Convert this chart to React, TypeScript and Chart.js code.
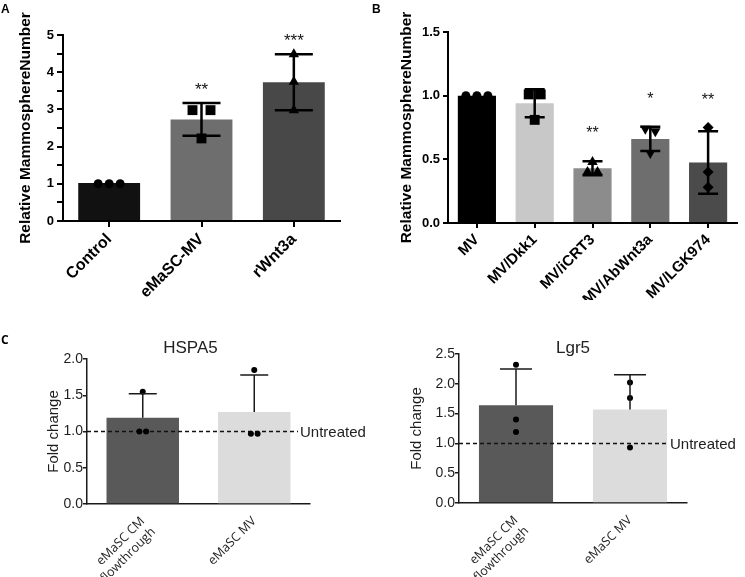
import React, { useEffect, useRef } from 'react';
import { Chart, registerables } from 'chart.js';

Chart.register(...registerables);

// ================= DATA =================
// Panel A
const aCategories = ['Control', 'eMaSC-MV', 'rWnt3a'];
const aMeans = [1.02, 2.73, 3.73];
const aSD = [0, 0.44, 0.75];
const aReplicates = [
  [1.0, 1.0, 1.0],
  [2.98, 2.98, 2.22],
  [4.48, 3.74, 2.98],
];
const aStars = ['', '**', '***'];
const aYTicks = [0, 0.5, 1, 1.5, 2, 2.5, 3, 3.5, 4, 4.5, 5];

// Panel B
const bCategories = ['MV', 'MV/Dkk1', 'MV/iCRT3', 'MV/AbWnt3a', 'MV/LGK974'];
const bMeans = [1.0, 0.94, 0.43, 0.66, 0.475];
const bSD = [0, 0.11, 0.055, 0.095, 0.245];
const bReplicates = [
  [1.0, 1.0, 1.0],
  [1.01, 1.01, 0.81],
  [0.48, 0.4, 0.4],
  [0.74, 0.72, 0.55],
  [0.75, 0.4, 0.28],
];
const bStars = ['', '', '**', '*', '**'];
const bYTicks = [0, 0.5, 1.0, 1.5];

// Panel C
const cCategories = [['eMaSC CM', 'flowthrough'], 'eMaSC MV'];
const hspa5Means = [1.19, 1.27];
const hspa5SD = [0.33, 0.51];
const hspa5Replicates = [
  [1.55, 1.0, 1.0],
  [1.85, 0.97, 0.97],
];
const hspa5YTicks = [0, 0.5, 1.0, 1.5, 2.0];

const lgr5Means = [1.64, 1.57];
const lgr5SD = [0.61, 0.58];
const lgr5Replicates = [
  [2.32, 1.4, 1.19],
  [2.02, 1.76, 0.93],
];
const lgr5YTicks = [0, 0.5, 1.0, 1.5, 2.0, 2.5];

const untreatedLevel = 1.0;
const untreatedLabel = 'Untreated';

// ================= CHART BUILDER =================
const SANS = "'Liberation Sans', Arial, sans-serif";

function makeConfig(s: any) {
  const n = s.categories.length;
  const catPx = (s.area.right - s.area.left) / n;

  const scatterSets = s.replicates.map((vals: number[], i: number) => {
    const used = vals.map(() => false);
    const offs = vals.map(() => 0);
    vals.forEach((v, k) => {
      if (used[k]) return;
      const grp = vals
        .map((_w, j) => j)
        .filter((j) => !used[j] && Math.abs(vals[j] - v) <= s.groupTol);
      grp.forEach((j, m) => {
        used[j] = true;
        offs[j] = ((m - (grp.length - 1) / 2) * s.spreadPx[i]) / catPx;
      });
    });
    return {
      type: 'scatter',
      xAxisID: 'xs',
      yAxisID: 'y',
      data: vals.map((v, k) => ({ x: i + offs[k], y: v })),
      pointStyle: s.pointStyles[i],
      pointRotation: s.pointRotations[i],
      pointRadius: s.pointRadii[i],
      pointHoverRadius: s.pointRadii[i],
      backgroundColor: '#000',
      borderColor: '#000',
      borderWidth: 0,
      order: 1,
      clip: false,
    };
  });

  const extras = {
    id: 'extras',
    afterDatasetDraw(chart: any, args: any) {
      if (args.index !== 0 || !s.refLine) return;
      const { ctx, chartArea, scales } = chart;
      const y = scales.y.getPixelForValue(s.refLine.value);
      const textX = chartArea.right + s.refLine.dx;
      ctx.save();
      ctx.strokeStyle = '#111';
      ctx.lineWidth = 1.5;
      ctx.setLineDash([4, 3]);
      ctx.beginPath();
      ctx.moveTo(chartArea.left, y);
      ctx.lineTo(textX - 2, y);
      ctx.stroke();
      ctx.setLineDash([]);
      ctx.fillStyle = '#222';
      ctx.font = s.refLine.font;
      ctx.textAlign = 'left';
      ctx.textBaseline = 'middle';
      ctx.fillText(s.refLine.label, textX, y + 1);
      ctx.restore();
    },
    afterDatasetsDraw(chart: any) {
      const { ctx, chartArea, scales } = chart;
      const xs = scales.x;
      const ys = scales.y;
      ctx.save();
      ctx.strokeStyle = s.errColor;
      ctx.lineWidth = s.errWidth;
      s.means.forEach((m: number, i: number) => {
        const sd = s.sd[i];
        if (!sd) return;
        const cx = xs.getPixelForValue(i);
        const yTop = ys.getPixelForValue(m + sd);
        const yBot = s.lowerErr ? ys.getPixelForValue(m - sd) : ys.getPixelForValue(m);
        ctx.beginPath();
        ctx.moveTo(cx, yBot);
        ctx.lineTo(cx, yTop);
        ctx.moveTo(cx - s.capHalf, yTop);
        ctx.lineTo(cx + s.capHalf, yTop);
        if (s.lowerErr) {
          ctx.moveTo(cx - s.capHalf, yBot);
          ctx.lineTo(cx + s.capHalf, yBot);
        }
        ctx.stroke();
      });
      if (s.stars) {
        ctx.fillStyle = '#111';
        ctx.font = s.starFont;
        ctx.textAlign = 'center';
        ctx.textBaseline = 'alphabetic';
        s.stars.forEach((st: string, i: number) => {
          if (!st) return;
          const top = Math.max(s.means[i] + s.sd[i], ...s.replicates[i]);
          const cy = ys.getPixelForValue(top) - s.starGap;
          ctx.fillText(st, xs.getPixelForValue(i), cy + s.starSize * 0.57);
        });
      }
      if (s.title) {
        ctx.fillStyle = '#222';
        ctx.font = s.titleFont;
        ctx.textAlign = 'center';
        ctx.textBaseline = 'alphabetic';
        ctx.fillText(s.title, (chartArea.left + chartArea.right) / 2 + (s.titleDx || 0), s.titleBaseline);
      }
      ctx.restore();
    },
  };

  return {
    type: 'bar',
    data: {
      labels: s.categories,
      datasets: [
        {
          type: 'bar',
          data: s.means,
          backgroundColor: s.barColors,
          borderWidth: 0,
          barPercentage: 1,
          categoryPercentage: s.barFrac,
          grouped: false,
          order: 2,
        },
        ...scatterSets,
      ],
    },
    options: {
      responsive: false,
      animation: false,
      events: [],
      layout: {
        padding: { left: 0, top: s.area.top, right: s.width - s.area.right, bottom: 0 },
      },
      plugins: {
        legend: { display: false },
        tooltip: { enabled: false },
        title: { display: false },
      },
      scales: {
        x: {
          type: 'category',
          offset: true,
          grid: {
            display: s.xTicks,
            offset: false,
            drawOnChartArea: false,
            drawTicks: true,
            tickLength: s.tickLen,
            color: s.axisColor,
            lineWidth: s.axisWidth,
          },
          border: { display: true, color: s.axisColor, width: s.axisWidth },
          ticks: {
            color: s.textColor,
            font: s.xFont,
            maxRotation: 45,
            minRotation: 45,
            autoSkip: false,
            padding: s.xTickPad,
          },
          afterFit: (sc: any) => {
            sc.height = s.height - s.area.bottom;
          },
        },
        xs: {
          type: 'linear',
          display: false,
          offset: false,
          grace: 0,
          bounds: 'data',
          min: -0.5,
          max: n - 0.5,
        },
        y: {
          type: 'linear',
          min: 0,
          max: s.yTicks[s.yTicks.length - 1],
          grid: {
            display: true,
            drawOnChartArea: false,
            drawTicks: true,
            tickLength: s.tickLen,
            color: s.axisColor,
            lineWidth: s.axisWidth,
          },
          border: { display: true, color: s.axisColor, width: s.axisWidth },
          ticks: {
            color: s.textColor,
            font: s.yFont,
            padding: s.yTickPad,
            callback: (v: number) => s.yLabel(v),
          },
          afterBuildTicks: (sc: any) => {
            sc.ticks = s.yTicks.map((v: number) => ({ value: v }));
          },
          title: {
            display: true,
            text: s.yTitle,
            color: s.textColor,
            font: s.yTitleFont,
            padding: { top: s.yTitlePad, bottom: 0 },
          },
          afterFit: (sc: any) => {
            sc.width = s.area.left;
          },
        },
      },
    },
    plugins: [extras],
  };
}

// ================= PANEL SPECS =================
const specA = {
  categories: aCategories,
  means: aMeans,
  sd: aSD,
  lowerErr: true,
  replicates: aReplicates,
  stars: aStars,
  yTicks: aYTicks,
  yLabel: (v: number) => (Number.isInteger(v) ? String(v) : ''),
  width: 370,
  height: 300,
  area: { left: 63, right: 340, top: 35, bottom: 221 },
  barFrac: 0.67,
  barColors: ['#111111', '#6e6e6e', '#484848'],
  pointStyles: ['circle', 'rect', 'triangle'],
  pointRotations: [0, 0, 0],
  pointRadii: [4.5, 7, 6],
  spreadPx: [11, 18, 10],
  groupTol: 0.05,
  axisColor: '#000',
  axisWidth: 2,
  tickLen: 6,
  xTicks: true,
  textColor: '#000',
  xFont: { family: SANS, size: 16, weight: 'bold' },
  xTickPad: 3,
  yFont: { family: SANS, size: 13, weight: 'bold' },
  yTickPad: 3,
  yTitle: 'Relative MammosphereNumber',
  yTitleFont: { family: SANS, size: 15.5, weight: 'bold' },
  yTitlePad: 16,
  errColor: '#000',
  errWidth: 2.5,
  capHalf: 19,
  starFont: `17px ${SANS}`,
  starSize: 17,
  starGap: 18,
};

const specB = {
  categories: bCategories,
  means: bMeans,
  sd: bSD,
  lowerErr: true,
  replicates: bReplicates,
  stars: bStars,
  yTicks: bYTicks,
  yLabel: (v: number) => v.toFixed(1),
  width: 375,
  height: 300,
  area: { left: 78, right: 367, top: 32, bottom: 223 },
  barFrac: 0.66,
  barColors: ['#000000', '#c8c8c8', '#8c8c8c', '#6e6e6e', '#4b4b4b'],
  pointStyles: ['circle', 'rect', 'triangle', 'triangle', 'rectRot'],
  pointRotations: [0, 0, 0, 180, 0],
  pointRadii: [4.5, 7, 6, 6, 5.5],
  spreadPx: [11, 12, 10, 10, 10],
  groupTol: 0.03,
  axisColor: '#000',
  axisWidth: 2,
  tickLen: 5,
  xTicks: true,
  textColor: '#000',
  xFont: { family: SANS, size: 15, weight: 'bold' },
  xTickPad: 3,
  yFont: { family: SANS, size: 13, weight: 'bold' },
  yTickPad: 3,
  yTitle: 'Relative MammosphereNumber',
  yTitleFont: { family: SANS, size: 15.5, weight: 'bold' },
  yTitlePad: 27,
  errColor: '#000',
  errWidth: 2.5,
  capHalf: 10,
  starFont: `16px ${SANS}`,
  starSize: 16,
  starGap: 32,
};

const cCommon = {
  categories: cCategories,
  lowerErr: false,
  yLabel: (v: number) => v.toFixed(1),
  height: 277,
  barFrac: 0.65,
  barColors: ['#595959', '#dcdcdc'],
  pointStyles: ['circle', 'circle'],
  pointRotations: [0, 0],
  pointRadii: [3, 3],
  spreadPx: [6.7, 6.7],
  groupTol: 0.05,
  axisColor: '#1a1a1a',
  axisWidth: 1.5,
  tickLen: 4,
  xTicks: false,
  textColor: '#1e1e1e',
  xFont: { family: "'Open Sans', sans-serif", size: 12.5, weight: 'normal' },
  xTickPad: 6,
  yFont: { family: SANS, size: 14, weight: 'normal' },
  yTickPad: 0,
  yTitle: 'Fold change',
  yTitleFont: { family: SANS, size: 15, weight: 'normal' },
  errColor: '#1a1a1a',
  errWidth: 1.5,
  titleFont: `17px ${SANS}`,
  titleBaseline: 52.5,
};

const specHSPA5 = {
  ...cCommon,
  means: hspa5Means,
  sd: hspa5SD,
  replicates: hspa5Replicates,
  yTicks: hspa5YTicks,
  width: 370,
  area: { left: 87, right: 310, top: 59, bottom: 204 },
  yTitlePad: 45,
  capHalf: 14,
  title: 'HSPA5',
  titleDx: -8,
  refLine: { value: untreatedLevel, label: untreatedLabel, dx: -10, font: `15px ${SANS}` },
};

const specLgr5 = {
  ...cCommon,
  means: lgr5Means,
  sd: lgr5SD,
  replicates: lgr5Replicates,
  yTicks: lgr5YTicks,
  width: 375,
  area: { left: 89, right: 317, top: 54, bottom: 203 },
  yTitlePad: 38,
  capHalf: 16,
  title: 'Lgr5',
  titleDx: 0,
  refLine: { value: untreatedLevel, label: untreatedLabel, dx: -17, font: `15px ${SANS}` },
};

// ================= COMPONENTS =================
function Panel({ spec, left, top }: { spec: any; left: number; top: number }) {
  const ref = useRef<HTMLCanvasElement>(null);
  useEffect(() => {
    const chart = new Chart(ref.current as HTMLCanvasElement, makeConfig(spec) as any);
    return () => chart.destroy();
  }, [spec]);
  return (
    <canvas
      ref={ref}
      width={spec.width}
      height={spec.height}
      style={{ position: 'absolute', left, top, width: spec.width, height: spec.height }}
    />
  );
}

const letterStyle: React.CSSProperties = {
  position: 'absolute',
  fontFamily: SANS,
  fontWeight: 'bold',
  fontSize: 12,
  lineHeight: '12px',
  color: '#000',
};

export default function App() {
  return (
    <div
      style={{
        position: 'fixed',
        left: 0,
        top: 0,
        width: 745,
        height: 577,
        background: '#fff',
        overflow: 'hidden',
      }}
    >
      <Panel spec={specA} left={0} top={0} />
      <Panel spec={specB} left={370} top={0} />
      <Panel spec={specHSPA5} left={0} top={300} />
      <Panel spec={specLgr5} left={370} top={300} />
      <div style={{ ...letterStyle, left: 1, top: 3 }}>A</div>
      <div style={{ ...letterStyle, left: 372, top: 3 }}>B</div>
      <div style={{ ...letterStyle, left: 1, top: 334, fontFamily: "'Open Sans', sans-serif" }}>C</div>
    </div>
  );
}
